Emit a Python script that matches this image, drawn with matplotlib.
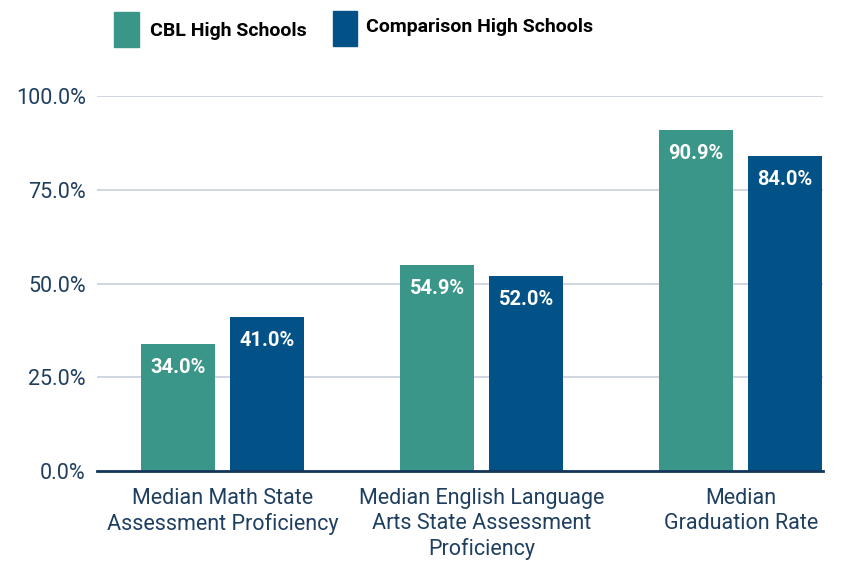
import matplotlib
matplotlib.use("Agg")
import matplotlib.pyplot as plt
from matplotlib.patches import Rectangle
import numpy as np

plt.rcParams['font.family'] = ['Roboto', 'DejaVu Sans']

# data
categories = ["Median Math State\nAssessment Proficiency",
              "Median English Language\nArts State Assessment\nProficiency",
              "Median\nGraduation Rate"]
series_names = ["CBL High Schools", "Comparison High Schools"]
cbl_values = [34.0, 54.9, 90.9]
comparison_values = [41.0, 52.0, 84.0]
y_ticks = [0, 25, 50, 75, 100]

TEAL = "#399688"
NAVY = "#035287"
TEXT = "#1f3f60"

fig = plt.figure(figsize=(8.43, 5.61), dpi=100)
ax = fig.add_axes([0.115, 0.160, 0.861, 0.669])

x = np.arange(len(categories))
w = 0.285
off = 0.172
b1 = ax.bar(x - off, cbl_values, w, color=TEAL, zorder=3)
b2 = ax.bar(x + off, comparison_values, w, color=NAVY, zorder=3)

for bars, vals in ((b1, cbl_values), (b2, comparison_values)):
    for rect, v in zip(bars, vals):
        ax.annotate("%.1f%%" % v, (rect.get_x() + rect.get_width() / 2, v),
                    xytext=(0, -10), textcoords="offset points",
                    ha="center", va="top", color="white",
                    fontsize=14.5, fontweight="bold", zorder=4)

ax.set_ylim(0, 100)
ax.set_xlim(-0.486, 2.317)
ax.set_yticks(y_ticks)
ax.set_yticklabels(["%.1f%%" % t for t in y_ticks])
ax.yaxis.grid(True, color="#c8d0da", linewidth=1.2, zorder=0)
ax.set_xticks(x)
ax.set_xticklabels(categories, linespacing=1.25)
ax.tick_params(axis="both", length=0, labelsize=15.5, colors=TEXT)
ax.tick_params(axis="y", pad=8)
ax.tick_params(axis="x", pad=12)
for s in ["top", "right", "left"]:
    ax.spines[s].set_visible(False)
ax.spines["bottom"].set_color("#15365a")
ax.spines["bottom"].set_linewidth(2)
ax.spines["bottom"].set_zorder(5)

# legend drawn manually
W, H = 843, 561
fig.patches.append(Rectangle((114 / W, 1 - 47 / H), 25 / W, 35 / H,
                             transform=fig.transFigure, color=TEAL))
fig.text(150 / W, 1 - 31 / H, series_names[0], fontsize=14, fontweight="bold",
         va="center", ha="left", color="black")
fig.patches.append(Rectangle((333 / W, 1 - 46 / H), 24 / W, 35 / H,
                             transform=fig.transFigure, color=NAVY))
fig.text(366 / W, 1 - 27 / H, series_names[1], fontsize=14, fontweight="bold",
         va="center", ha="left", color="black")

fig.savefig("out.png", dpi=100)
